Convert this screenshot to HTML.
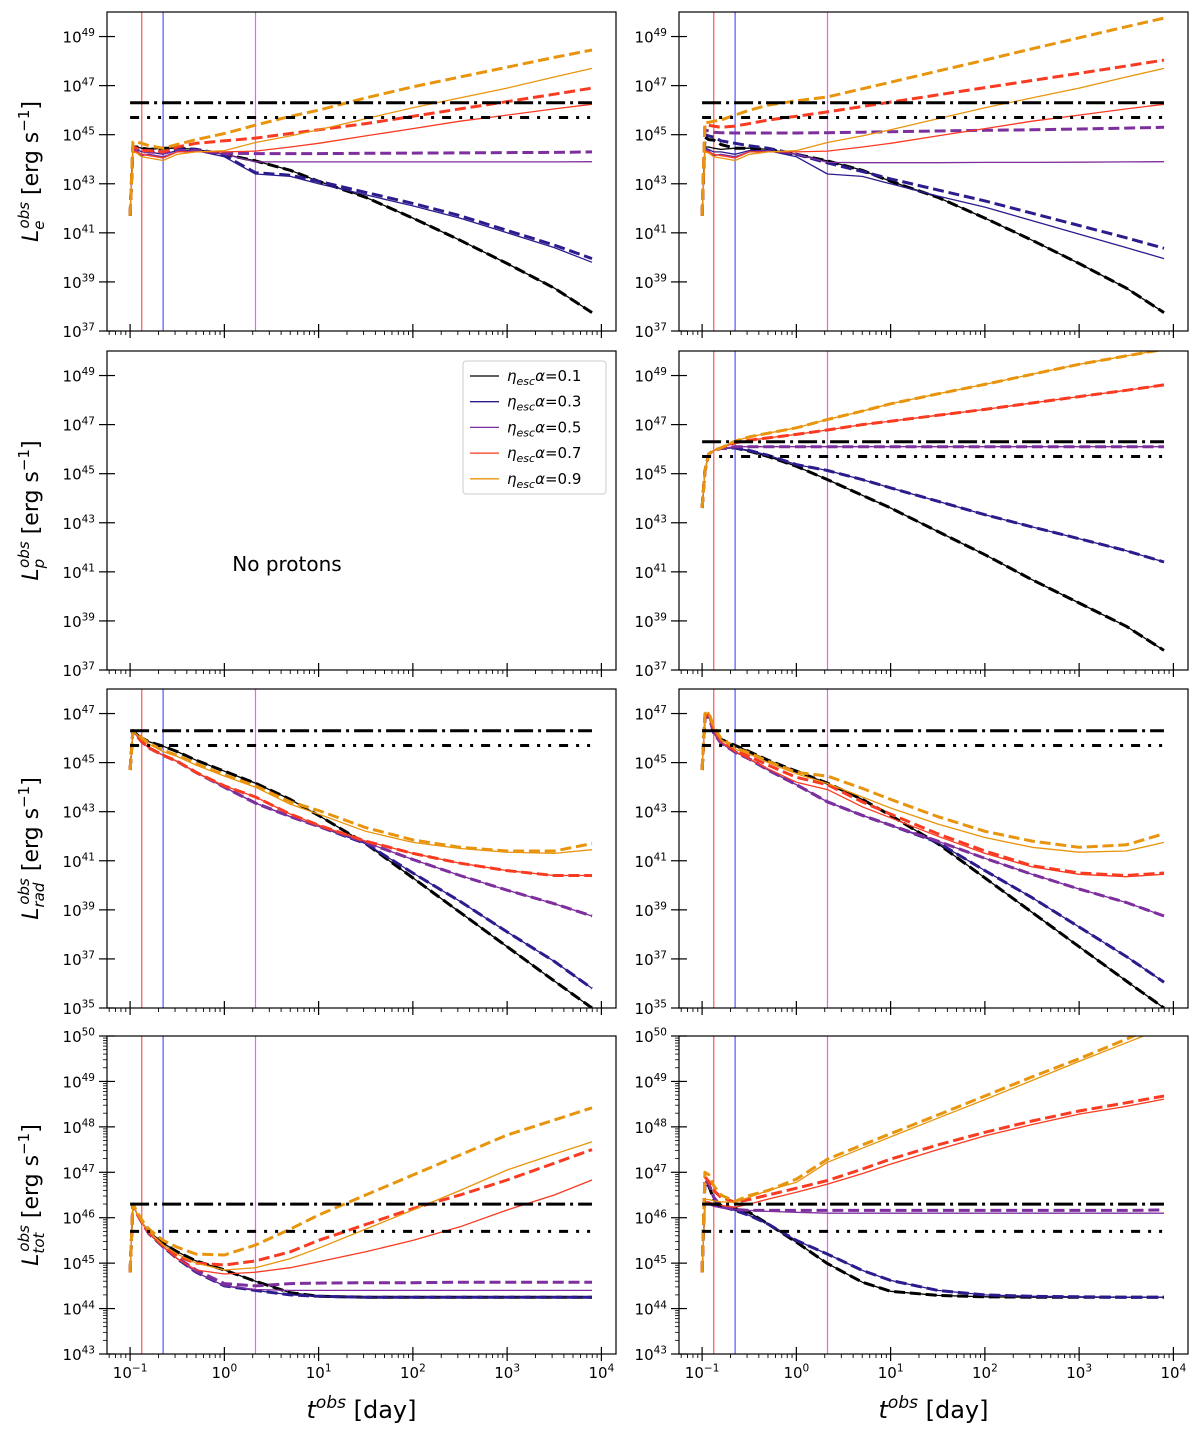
<!DOCTYPE html>
<html><head><meta charset="utf-8"><style>
html,body{margin:0;padding:0;background:#fff;}
svg{display:block;font-family:"DejaVu Sans","Liberation Sans",sans-serif;}
</style></head><body>
<svg id="fig" width="1200" height="1437" viewBox="0 0 1200 1437" xmlns="http://www.w3.org/2000/svg"></svg>
<script>
// time grid (log10 days)
const T = [-1,-0.97,-0.93,-0.876,-0.8,-0.65,-0.5,-0.3,0,0.33,0.7,1,1.5,2,2.5,3,3.5,3.9];
// reference lines (log10 values)
const hLevels = [46.3, 45.7];
const vTimes = [0.133, 0.224, 2.14];
// Panel A: L_e left
const A_black=[41.7,44.5,44.5,44.45,44.4,44.45,44.45,44.4,44.2,43.93,43.55,43.1,42.45,41.6,40.7,39.75,38.75,37.75];
const A_blue=[41.7,44.45,44.4,44.3,44.3,44.2,44.35,44.35,44.1,43.4,43.3,43.0,42.55,42.1,41.6,41.0,40.4,39.8];
const A_blueD=[41.7,44.5,44.45,44.35,44.35,44.3,44.4,44.4,44.15,43.45,43.35,43.1,42.65,42.2,41.7,41.1,40.5,39.95];
const A_purple=[41.7,44.4,44.35,44.15,44.2,44.1,44.3,44.35,44.2,43.89,43.89,43.89,43.89,43.89,43.89,43.89,43.89,43.9];
const A_purpleD=[41.7,44.45,44.4,44.3,44.3,44.25,44.35,44.35,44.25,44.23,44.23,44.23,44.24,44.25,44.26,44.27,44.28,44.3];
const A_red=[41.7,44.35,44.3,44.2,44.15,44.05,44.3,44.3,44.3,44.33,44.5,44.65,44.95,45.25,45.55,45.8,46.05,46.24];
const A_redD=[41.7,44.5,44.45,44.35,44.35,44.3,44.5,44.65,44.75,44.86,45.05,45.2,45.45,45.75,46.05,46.35,46.65,46.9];
const A_orange=[41.7,44.3,44.25,44.1,44.05,43.95,44.2,44.3,44.35,44.68,44.95,45.2,45.65,46.1,46.5,46.9,47.35,47.7];
const A_orangeD=[41.7,44.7,44.7,44.65,44.55,44.45,44.6,44.8,45.05,45.39,45.75,46.0,46.5,46.95,47.35,47.75,48.15,48.45];
// Panel B: L_e right
const B_blackD=[41.7,44.9,44.8,44.78,44.6,44.45,44.45,44.4,44.2,43.93,43.55,43.1,42.45,41.6,40.7,39.75,38.75,37.75];
const B_blue=[41.7,44.45,44.4,44.3,44.3,44.2,44.35,44.35,44.1,43.4,43.3,43.0,42.5,42.05,41.5,40.95,40.4,39.95];
const B_blueD=[41.7,45.0,44.95,44.9,44.75,44.65,44.55,44.45,44.2,43.85,43.5,43.2,42.75,42.3,41.8,41.3,40.8,40.37];
const B_purple=[41.7,44.4,44.35,44.15,44.2,44.1,44.3,44.35,44.2,43.87,43.86,43.86,43.86,43.87,43.87,43.88,43.89,43.9];
const B_purpleD=[41.7,45.2,45.15,45.1,45.08,45.07,45.07,45.07,45.07,45.08,45.1,45.12,45.15,45.18,45.2,45.23,45.27,45.3];
const B_redD=[41.7,45.4,45.38,45.35,45.3,45.35,45.45,45.6,45.75,45.93,46.15,46.33,46.62,46.92,47.21,47.5,47.8,48.04];
const B_orangeD=[41.7,45.5,45.5,45.55,45.6,45.8,46.0,46.2,46.38,46.54,46.87,47.14,47.59,48.04,48.5,48.95,49.4,49.75];
// Panel C: L_p right
const C_black=[43.6,45.1,45.8,45.95,46.03,46.05,45.92,45.7,45.3,44.76,44.12,43.6,42.65,41.7,40.68,39.73,38.78,37.8];
const C_blue=[43.6,45.1,45.8,45.95,46.03,46.05,45.95,45.75,45.37,45.13,44.76,44.42,43.88,43.33,42.83,42.35,41.86,41.4];
const C_purple=[43.6,45.1,45.8,45.95,46.03,46.1,46.1,46.1,46.1,46.1,46.1,46.1,46.1,46.1,46.1,46.1,46.1,46.1];
const C_red=[43.6,45.1,45.8,45.95,46.05,46.26,46.36,46.46,46.6,46.78,47.0,47.14,47.38,47.62,47.88,48.14,48.4,48.62];
const C_orange=[43.6,45.1,45.8,45.95,46.05,46.33,46.5,46.65,46.87,47.21,47.55,47.85,48.25,48.64,49.05,49.46,49.8,50.07];
// Panel D: L_rad left
const D_black=[44.7,46.3,46.2,46.0,45.85,45.67,45.45,45.1,44.65,44.16,43.5,42.85,41.7,40.3,38.9,37.5,36.1,35.0];
const D_blue=[44.7,46.3,46.1,45.85,45.6,45.3,45.05,44.6,44.0,43.35,42.8,42.4,41.7,40.5,39.35,38.1,36.9,35.8];
const D_purple=[44.7,46.3,46.1,45.85,45.6,45.3,45.05,44.6,44.0,43.35,42.8,42.4,41.75,41.05,40.4,39.8,39.25,38.75];
const D_red=[44.7,46.3,46.1,45.85,45.6,45.3,45.05,44.6,44.05,43.6,42.9,42.45,41.8,41.3,40.9,40.6,40.4,40.4];
const D_orange=[44.7,46.3,46.15,45.95,45.75,45.45,45.25,44.9,44.45,44.0,43.3,42.9,42.2,41.75,41.5,41.35,41.3,41.45];
const D_orangeD=[44.7,46.3,46.2,46.0,45.8,45.5,45.3,44.95,44.5,44.05,43.4,43.05,42.35,41.85,41.55,41.4,41.4,41.7];
// Panel E: L_rad right
const E_black=[44.7,46.8,46.9,46.3,45.95,45.7,45.45,45.1,44.65,44.16,43.5,42.85,41.7,40.3,38.9,37.5,36.1,35.0];
const E_blue=[44.7,46.8,46.9,46.2,45.8,45.43,45.15,44.7,44.1,43.4,42.85,42.45,41.75,40.6,39.5,38.3,37.1,36.05];
const E_purple=[44.7,46.8,46.9,46.2,45.8,45.43,45.15,44.7,44.1,43.4,42.85,42.45,41.8,41.1,40.45,39.85,39.3,38.75];
const E_red=[44.7,46.85,46.95,46.3,45.85,45.45,45.15,44.75,44.2,43.9,43.2,42.75,42.0,41.3,40.75,40.45,40.35,40.45];
const E_redD=[44.7,46.9,47.0,46.35,45.9,45.5,45.25,44.9,44.4,44.1,43.4,42.9,42.1,41.4,40.8,40.5,40.4,40.5];
const E_orange=[44.7,46.95,47.05,46.4,45.95,45.55,45.35,45.0,44.55,44.15,43.6,43.15,42.5,41.95,41.55,41.35,41.4,41.75];
const E_orangeD=[44.7,47.0,47.05,46.45,46.0,45.6,45.4,45.05,44.6,44.45,43.95,43.5,42.8,42.2,41.8,41.55,41.65,42.1];
// Panel F: L_tot left
const F_black=[44.8,46.3,46.1,45.9,45.7,45.44,45.25,45.05,44.85,44.6,44.35,44.27,44.25,44.25,44.25,44.25,44.25,44.25];
const F_blue=[44.8,46.3,46.1,45.9,45.65,45.36,45.1,44.8,44.5,44.4,44.3,44.27,44.25,44.25,44.25,44.25,44.25,44.25];
const F_purple=[44.8,46.3,46.1,45.9,45.65,45.36,45.1,44.8,44.5,44.42,44.4,44.4,44.4,44.4,44.4,44.4,44.4,44.4];
const F_purpleD=[44.8,46.3,46.1,45.9,45.65,45.38,45.12,44.85,44.55,44.5,44.55,44.56,44.57,44.57,44.58,44.58,44.58,44.58];
const F_red=[44.8,46.3,46.1,45.9,45.65,45.36,45.1,44.85,44.76,44.8,44.9,45.03,45.25,45.5,45.8,46.17,46.5,46.83];
const F_redD=[44.8,46.3,46.1,45.9,45.67,45.38,45.15,45.0,44.96,45.05,45.25,45.5,45.85,46.2,46.5,46.83,47.2,47.5];
const F_orange=[44.8,46.3,46.1,45.9,45.7,45.4,45.2,45.0,44.85,44.9,45.1,45.33,45.75,46.17,46.6,47.05,47.4,47.67];
const F_orangeD=[44.8,46.3,46.15,45.95,45.75,45.5,45.35,45.2,45.18,45.4,45.75,46.06,46.5,46.94,47.38,47.82,48.15,48.42];
// Panel G: L_tot right
const G_black=[44.8,46.3,46.3,46.27,46.25,46.2,46.12,45.86,45.46,44.99,44.58,44.38,44.29,44.26,44.25,44.25,44.25,44.25];
const G_blackD=[44.8,46.8,46.7,46.4,46.27,46.2,46.12,45.86,45.46,44.99,44.58,44.38,44.29,44.26,44.25,44.25,44.25,44.25];
const G_blue=[44.8,46.3,46.3,46.27,46.22,46.16,46.05,45.86,45.5,45.2,44.84,44.62,44.4,44.3,44.27,44.26,44.25,44.25];
const G_blueD=[44.8,46.85,46.75,46.45,46.25,46.16,46.05,45.86,45.5,45.2,44.84,44.62,44.4,44.3,44.27,44.26,44.25,44.25];
const G_purple=[44.8,46.3,46.3,46.25,46.22,46.19,46.16,46.14,46.12,46.1,46.1,46.1,46.1,46.1,46.1,46.1,46.1,46.1];
const G_purpleD=[44.8,46.85,46.75,46.45,46.25,46.18,46.16,46.16,46.16,46.16,46.16,46.16,46.16,46.16,46.16,46.16,46.16,46.17];
const G_red=[44.8,46.35,46.35,46.3,46.27,46.23,46.3,46.41,46.56,46.74,46.97,47.18,47.5,47.8,48.05,48.28,48.45,48.61];
const G_redD=[44.8,46.9,46.8,46.6,46.45,46.34,46.4,46.5,46.65,46.82,47.07,47.29,47.6,47.88,48.13,48.35,48.53,48.68];
const G_orange=[44.8,46.4,46.4,46.37,46.35,46.34,46.45,46.6,46.78,47.22,47.53,47.78,48.19,48.6,49.02,49.44,49.85,50.18];
const G_orangeD=[44.8,47.0,46.95,46.7,46.5,46.36,46.49,46.6,46.85,47.29,47.6,47.85,48.26,48.68,49.1,49.5,49.93,50.3];
const legendLabels = ['0.1','0.3','0.5','0.7','0.9'];

const COL = {k:'#000000', b:'#2b1c8e', p:'#7e2f9e', r:'#f93b22', o:'#e8940c'};
const NS = 'http://www.w3.org/2000/svg';
const svg = document.getElementById('fig');
function el(tag, attrs, parent){const e=document.createElementNS(NS,tag);for(const k in attrs)e.setAttribute(k,attrs[k]);(parent||svg).appendChild(e);return e;}

const XLIM=[-1.245,4.155];
const cols=[[107,616],[679,1188]];
const rows=[[12,331],[351,670],[689,1008],[1036,1354]];
const ylims=[[37,50],[37,50],[35,48],[43,50]];

function S(d,c,dash,name){return {d:d,c:c,dash:dash,name:name};}
const panels=[
 {r:0,c:0,name:'electron-panel-left',series:[S(A_black,'k',0,'k'),S(A_black,'k',1,'k'),S(A_blue,'b',0,'b'),S(A_blueD,'b',1,'b'),S(A_purple,'p',0,'p'),S(A_purpleD,'p',1,'p'),S(A_red,'r',0,'r'),S(A_redD,'r',1,'r'),S(A_orange,'o',0,'o'),S(A_orangeD,'o',1,'o')]},
 {r:0,c:1,name:'electron-panel-right',series:[S(A_black,'k',0,'k'),S(B_blackD,'k',1,'k'),S(B_blue,'b',0,'b'),S(B_blueD,'b',1,'b'),S(B_purple,'p',0,'p'),S(B_purpleD,'p',1,'p'),S(A_red,'r',0,'r'),S(B_redD,'r',1,'r'),S(A_orange,'o',0,'o'),S(B_orangeD,'o',1,'o')]},
 {r:1,c:0,name:'proton-panel-left',empty:true,series:[]},
 {r:1,c:1,name:'proton-panel-right',series:[S(C_black,'k',0,'k'),S(C_black,'k',1,'k'),S(C_blue,'b',0,'b'),S(C_blue,'b',1,'b'),S(C_purple,'p',0,'p'),S(C_purple,'p',1,'p'),S(C_red,'r',0,'r'),S(C_red,'r',1,'r'),S(C_orange,'o',0,'o'),S(C_orange,'o',1,'o')]},
 {r:2,c:0,name:'radiation-panel-left',series:[S(D_black,'k',0,'k'),S(D_black,'k',1,'k'),S(D_blue,'b',0,'b'),S(D_blue,'b',1,'b'),S(D_purple,'p',0,'p'),S(D_purple,'p',1,'p'),S(D_red,'r',0,'r'),S(D_red,'r',1,'r'),S(D_orange,'o',0,'o'),S(D_orangeD,'o',1,'o')]},
 {r:2,c:1,name:'radiation-panel-right',series:[S(E_black,'k',0,'k'),S(E_black,'k',1,'k'),S(E_blue,'b',0,'b'),S(E_blue,'b',1,'b'),S(E_purple,'p',0,'p'),S(E_purple,'p',1,'p'),S(E_red,'r',0,'r'),S(E_redD,'r',1,'r'),S(E_orange,'o',0,'o'),S(E_orangeD,'o',1,'o')]},
 {r:3,c:0,name:'total-panel-left',series:[S(F_black,'k',0,'k'),S(F_black,'k',1,'k'),S(F_blue,'b',0,'b'),S(F_blue,'b',1,'b'),S(F_purple,'p',0,'p'),S(F_purpleD,'p',1,'p'),S(F_red,'r',0,'r'),S(F_redD,'r',1,'r'),S(F_orange,'o',0,'o'),S(F_orangeD,'o',1,'o')]},
 {r:3,c:1,name:'total-panel-right',series:[S(G_black,'k',0,'k'),S(G_blackD,'k',1,'k'),S(G_blue,'b',0,'b'),S(G_blueD,'b',1,'b'),S(G_purple,'p',0,'p'),S(G_purpleD,'p',1,'p'),S(G_red,'r',0,'r'),S(G_redD,'r',1,'r'),S(G_orange,'o',0,'o'),S(G_orangeD,'o',1,'o')]}
];

function sup(parent, base, exp, x, y, anchor, size){
  const t=el('text',{x:x,y:y,'text-anchor':anchor,'font-size':size,fill:'#000'},parent);
  const a=el('tspan',{},t);a.textContent=base;
  const b=el('tspan',{dy:-size*0.42,'font-size':size*0.7},t);b.textContent=exp;
  return t;
}

panels.forEach((P,pi)=>{
  const [x0,x1]=cols[P.c],[y0,y1]=rows[P.r],yl=ylims[P.r];
  const X=v=>x0+(v-XLIM[0])/(XLIM[1]-XLIM[0])*(x1-x0);
  const Y=v=>y1-(v-yl[0])/(yl[1]-yl[0])*(y1-y0);
  const g=el('g',{});
  
  
  const cp=el('clipPath',{id:'cp'+pi},g);
  el('rect',{x:x0,y:y0,width:x1-x0,height:y1-y0},cp);
  const plot=el('g',{'clip-path':'url(#cp'+pi+')'},g);
  if(!P.empty){
    const vc=['#ff5555','#5555ff','#ff55ff'];
    vTimes.forEach((t,i)=>{const l=el('line',{x1:X(Math.log10(t)),x2:X(Math.log10(t)),y1:y0,y2:y1,stroke:vc[i],'stroke-width':1.2},plot);
      
      });
    P.series.forEach(s=>{
      let d='';T.forEach((t,i)=>{d+=(i?'L':'M')+X(t).toFixed(1)+','+Y(s.d[i]).toFixed(1);});
      const p=el('path',{d:d,fill:'none',stroke:COL[s.c],'stroke-width':s.dash?3:1.3,'stroke-dasharray':s.dash?'11,4.8':'none','stroke-linejoin':'round'},plot);
      
      
    });
    hLevels.forEach((h,i)=>{const l=el('line',{x1:X(-1),x2:X(3.9),y1:Y(h),y2:Y(h),stroke:'#000','stroke-width':3,'stroke-dasharray':i?'9,8,3,8,3,8':'19,5,3,5'},plot);
      
      });
  }
  el('rect',{x:x0,y:y0,width:x1-x0,height:y1-y0,fill:'none',stroke:'#000','stroke-width':1.2},g);
  for(let k=-2;k<=4;k++){
    if(k>=XLIM[0]&&k<=XLIM[1]) el('line',{x1:X(k),x2:X(k),y1:y1-7,y2:y1+7,stroke:'#000','stroke-width':1.2},g);
    for(let m=2;m<10;m++){const v=k+Math.log10(m);if(v>XLIM[0]&&v<XLIM[1])el('line',{x1:X(v),x2:X(v),y1:y1,y2:y1+4,stroke:'#000','stroke-width':0.9},g);}
    if(P.r===3&&k>=-1&&k<=4){const t=sup(g,'10',k===-1?'\u22121':String(k),X(k),y1+24,'middle',15);
      }
  }
  const step=P.r===3?1:2;
  for(let v=yl[0];v<=yl[1];v+=step){
    el('line',{x1:x0-8,x2:x0+8,y1:Y(v),y2:Y(v),stroke:'#000','stroke-width':1.2},g);
    const t=sup(g,'10',String(v),x0-12,Y(v)+6,'end',15);
    
  }
  if(P.r===3){for(let k=yl[0];k<yl[1];k++)for(let m=2;m<10;m++){const v=k+Math.log10(m);el('line',{x1:x0-4,x2:x0,y1:Y(v),y2:Y(v),stroke:'#000','stroke-width':0.8},g);}}
});

const ySubs=['e','p','rad','tot'];const subW=[8,9,22,19];
rows.forEach((r,i)=>{
  const cy=(r[0]+r[1])/2;
  const t=el('text',{x:0,y:0,'font-size':22,transform:'translate(38,'+cy+') rotate(-90)','text-anchor':'middle'});
  
  
  const a=el('tspan',{'font-style':'italic'},t);a.textContent='L';
  const b=el('tspan',{'font-style':'italic','font-size':15,dy:6},t);b.textContent=ySubs[i];
  const c=el('tspan',{'font-style':'italic','font-size':15,dy:-15,dx:-subW[i]},t);c.textContent='obs';
  const d=el('tspan',{dy:9},t);d.textContent=' [erg s';
  const e=el('tspan',{'font-size':15,dy:-9},t);e.textContent='\u22121';
  const f=el('tspan',{dy:9},t);f.textContent=']';
});
cols.forEach(c=>{
  const t=el('text',{x:(c[0]+c[1])/2,y:1418,'font-size':24,'text-anchor':'middle'});
  
  
  const a=el('tspan',{'font-style':'italic'},t);a.textContent='t';
  const b=el('tspan',{'font-style':'italic','font-size':17,dy:-10},t);b.textContent='obs';
  const d=el('tspan',{dy:10},t);d.textContent=' [day]';
});
const np=el('text',{x:287,y:571,'font-size':20,'text-anchor':'middle'});


np.textContent='No protons';
const lg=el('g',{});


el('rect',{x:463,y:361,width:143,height:133,rx:3,fill:'#fff',stroke:'#cccccc','stroke-width':1},lg);
['k','b','p','r','o'].forEach((c,i)=>{
  const y=376+i*25.7;
  const ln=el('line',{x1:470,x2:499,y1:y,y2:y,stroke:COL[c],'stroke-width':1.3},lg);
  
  
  const t=el('text',{x:507,y:y+5,'font-size':15},lg);
  
  
  const a=el('tspan',{'font-style':'italic'},t);a.textContent='\u03b7';
  const b=el('tspan',{'font-style':'italic','font-size':11,dy:4},t);b.textContent='esc';
  const d=el('tspan',{dy:-4,'font-style':'italic'},t);d.textContent='\u03b1';
  const e=el('tspan',{},t);e.textContent='='+legendLabels[i];
});
</script>
</body></html>
